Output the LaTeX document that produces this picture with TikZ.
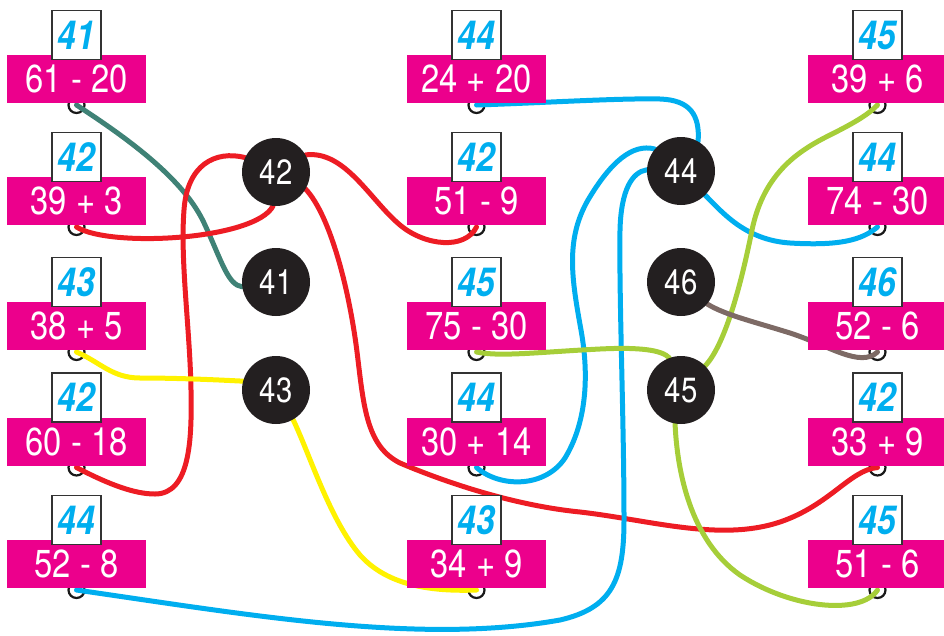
\documentclass[tikz,border=0pt]{standalone}
\usepackage{fontspec}
\setmainfont{TeX Gyre Heros}[FakeStretch=0.84]
\usepackage{tikz}
\usetikzlibrary{positioning,backgrounds}
\definecolor{taskpink}{HTML}{EC008C}
\definecolor{answerblue}{HTML}{00AEEF}
\definecolor{dotblack}{HTML}{231F20}
\definecolor{linered}{HTML}{ED1C24}
\definecolor{lineyellow}{HTML}{FFF200}
\definecolor{linegreen}{HTML}{A6CE39}
\definecolor{lineteal}{HTML}{3F8276}
\definecolor{linebrown}{HTML}{7D6A65}
\definecolor{lineblue}{HTML}{00AEEF}
\tikzset{
task/.style={fill=taskpink, text=white, minimum width=139pt, minimum height=48pt, inner sep=0pt, outer sep=0pt, font=\fontsize{39pt}{40pt}\selectfont}, % the pink sums
answer/.style={draw=black!80, line width=1.4pt, fill=white, text=answerblue, minimum size=49pt, inner sep=0pt, outer sep=0pt, font=\fontsize{40pt}{40pt}\selectfont\bfseries\itshape}, % the written results
hook/.style={draw=black!90, circle, line width=2.2pt, minimum size=16pt, inner sep=0pt, outer sep=0pt}, % small rings under the sums
result/.style={circle, fill=dotblack, text=white, minimum size=68pt, inner sep=0pt, font=\fontsize{35pt}{36pt}\selectfont}, % black dots
wire/.style={line width=5pt, line cap=round}, % the strings
}
\begin{document}
\begin{tikzpicture}[x=1pt, y=-1pt]
    \useasboundingbox (0,0) rectangle (944,635);
    % left column
    \node[task] at (76.5,79) (l1) {61 - 20};
    \node[task] at (76.5,201) (l2) {39 + 3};
    \node[task] at (76.5,326) (l3) {38 + 5};
    \node[task] at (76.5,441.5) (l4) {60 - 18};
    \node[task] at (76.5,564) (l5) {52 - 8};
    \node[answer, above=-4.5pt of l1] (la1) {41};
    \node[answer, above=-4.5pt of l2] (la2) {42};
    \node[answer, above=-4.5pt of l3] (la3) {43};
    \node[answer, above=-4.5pt of l4] (la4) {42};
    \node[answer, above=-4.5pt of l5] (la5) {44};
    % middle column
    \node[task] at (476.5,79) (m1) {24 + 20};
    \node[task] at (476.5,201) (m2) {51 - 9};
    \node[task] at (476.5,326) (m3) {75 - 30};
    \node[task] at (476.5,441.5) (m4) {30 + 14};
    \node[task] at (476.5,564) (m5) {34 + 9};
    \node[answer, above=-4.5pt of m1] (ma1) {44};
    \node[answer, above=-4.5pt of m2] (ma2) {42};
    \node[answer, above=-4.5pt of m3] (ma3) {45};
    \node[answer, above=-4.5pt of m4] (ma4) {44};
    \node[answer, above=-4.5pt of m5] (ma5) {43};
    % right column
    \node[task] at (877.5,79) (r1) {39 + 6};
    \node[task] at (877.5,201) (r2) {74 - 30};
    \node[task] at (877.5,326) (r3) {52 - 6};
    \node[task] at (877.5,441.5) (r4) {33 + 9};
    \node[task] at (877.5,564) (r5) {51 - 6};
    \node[answer, above=-4.5pt of r1] (ra1) {45};
    \node[answer, above=-4.5pt of r2] (ra2) {44};
    \node[answer, above=-4.5pt of r3] (ra3) {46};
    \node[answer, above=-4.5pt of r4] (ra4) {42};
    \node[answer, above=-4.5pt of r5] (ra5) {45};
    % results
    \node[result] at (276,172) (c42) {42};
    \node[result] at (276,282) (c41) {41};
    \node[result] at (276,390) (c43) {43};
    \node[result] at (681,171) (c44) {44};
    \node[result] at (681,282) (c46) {46};
    \node[result] at (681,390) (c45) {45};
    \begin{pgfonlayer}{background}
    \node[hook, below=-6pt of l1] (hl1) {};
    \node[hook, below=-6pt of l2] (hl2) {};
    \node[hook, below=-6pt of l3] (hl3) {};
    \node[hook, below=-6pt of l4] (hl4) {};
    \node[hook, below=-6pt of l5] (hl5) {};
    \node[hook, below=-6pt of m1] (hm1) {};
    \node[hook, below=-6pt of m2] (hm2) {};
    \node[hook, below=-6pt of m3] (hm3) {};
    \node[hook, below=-6pt of m4] (hm4) {};
    \node[hook, below=-6pt of m5] (hm5) {};
    \node[hook, below=-6pt of r1] (hr1) {};
    \node[hook, below=-6pt of r2] (hr2) {};
    \node[hook, below=-6pt of r3] (hr3) {};
    \node[hook, below=-6pt of r4] (hr4) {};
    \node[hook, below=-6pt of r5] (hr5) {};
    \draw[wire, lineteal]
    (hl1.center) .. controls (130,140) and (185,180) .. (205,225) .. controls (222,262) and (228,285) .. (c41.188);
    \draw[wire, linered]
    (hl2.center) .. controls (110,248) and (255,240) .. (c42.-95)
    (c42.30) .. controls (345,150) and (370,200) .. (400,225) .. controls (425,246) and (465,250) .. (hm2.center)
    (hl4.center) .. controls (110,485) and (135,494) .. (155,494) .. controls (190,494) and (192,440) .. (191,390)
        .. controls (190,330) and (180,260) .. (184,210) .. controls (187,165) and (215,150) .. (c42.155)
    (c42.-30) .. controls (330,215) and (350,290) .. (358,360) .. controls (364,410) and (368,447) .. (400,463)
        .. controls (440,480) and (510,505) .. (580,512) .. controls (650,520) and (720,542) .. (780,522)
        .. controls (830,505) and (850,470) .. (hr4.center);
    \draw[wire, lineyellow]
    (hl3.center) .. controls (100,362) and (112,378) .. (140,378) .. controls (180,378) and (220,380) .. (c43.165)
    (c43.-60) .. controls (310,455) and (330,520) .. (360,555) .. controls (385,583) and (425,592) .. (hm5.center);
    \draw[wire, lineblue]
    (hm1.center) .. controls (540,103) and (620,98) .. (660,99) .. controls (690,100) and (700,115) .. (c44.60)
    (c44.-45) .. controls (722,212) and (745,240) .. (790,243) .. controls (840,246) and (862,240) .. (hr2.center)
    (hm4.center) .. controls (500,488) and (545,488) .. (565,458) .. controls (585,425) and (590,380) .. (581,330)
        .. controls (572,280) and (565,240) .. (588,200) .. controls (610,163) and (632,143) .. (c44.140)
    (hl5.center) .. controls (250,615) and (420,645) .. (560,620) .. controls (612,608) and (624,580) .. (624,520)
        .. controls (624,420) and (619,300) .. (620,230) .. controls (621,190) and (632,172) .. (c44.178);
    \draw[wire, linegreen]
    (c45.45) .. controls (724,346) and (740,290) .. (752,230) .. controls (764,172) and (800,150) .. (830,135)
        .. controls (852,124) and (868,115) .. (hr1.center)
    (hm3.center) .. controls (500,357) and (540,352) .. (600,349) .. controls (640,347) and (662,350) .. (c45.110)
    (c45.-100) .. controls (677,470) and (690,540) .. (740,575) .. controls (790,608) and (860,616) .. (hr5.center);
    \draw[wire, linebrown]
    (c46.-40) .. controls (725,315) and (755,322) .. (790,333) .. controls (830,346) and (860,368) .. (hr3.center);
    \end{pgfonlayer}
\end{tikzpicture}
\end{document}
